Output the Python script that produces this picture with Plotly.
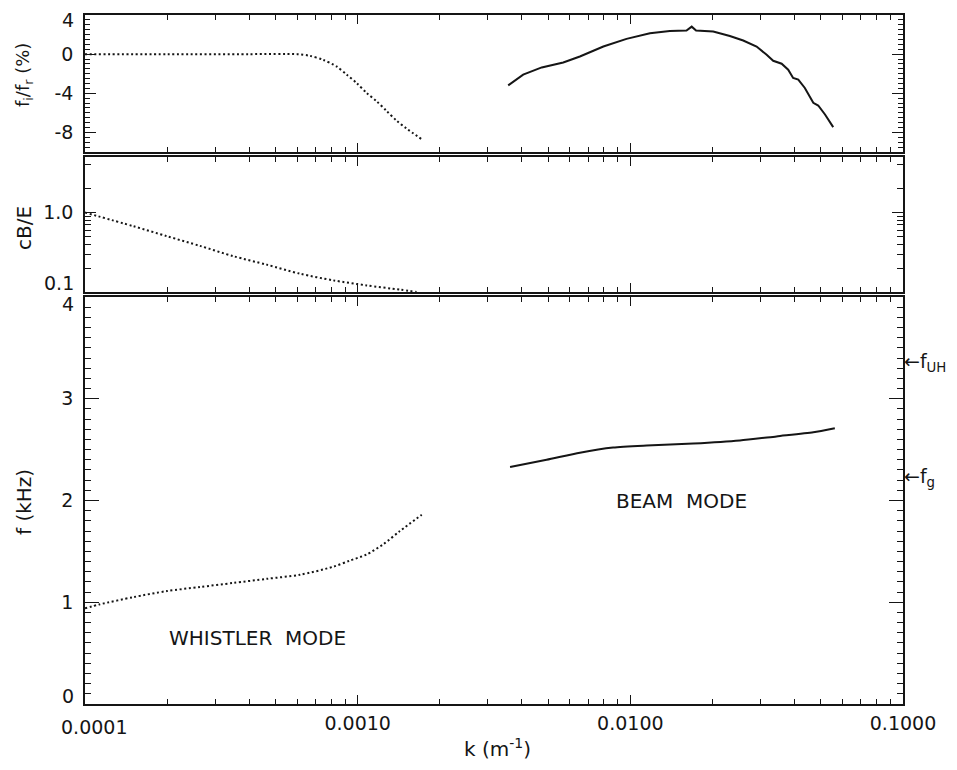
import plotly.graph_objects as go
import math

# ---------------- data ----------------
# top panel: growth rate f_i/f_r (%)
whistler_fi_k = [0.0001, 0.0002, 0.0004, 0.0006, 0.000667, 0.000746, 0.000836, 0.000912,
                 0.000991, 0.001079, 0.001172, 0.001276, 0.001390, 0.001510, 0.001718]
whistler_fi = [0.0, 0.0, 0.0, 0.0, -0.17, -0.58, -1.25, -2.1, -2.95, -3.97, -4.8, -5.8,
               -6.8, -7.6, -8.7]

beam_fi_k = [0.003565, 0.004046, 0.004732, 0.005675, 0.006531, 0.007962, 0.009683, 0.01180,
             0.01396, 0.01607, 0.01679, 0.01742, 0.02014, 0.02317, 0.02594, 0.02904, 0.03162,
             0.03342, 0.03589, 0.03793, 0.03954, 0.04130, 0.04365, 0.04688, 0.04887, 0.05176,
             0.05546]
beam_fi = [-3.19, -2.1, -1.36, -0.85, -0.24, 0.78, 1.56, 2.14, 2.37, 2.41, 2.81, 2.41, 2.31,
           1.86, 1.39, 0.78, -0.07, -0.68, -0.98, -1.59, -2.44, -2.61, -3.46, -4.98, -5.25,
           -6.17, -7.46]

# middle panel: cB/E
whistler_cbe_k = [0.0001, 0.0001503, 0.0001995, 0.0002642, 0.0003499, 0.0004634, 0.0006138,
                  0.0008147, 0.001079, 0.001429, 0.001644]
whistler_cbe = [1.0, 0.673, 0.504, 0.380, 0.282, 0.221, 0.170, 0.140, 0.121, 0.107, 0.100]

# bottom panel: frequency (kHz)
whistler_f_k = [0.0001, 0.0001135, 0.0001503, 0.0001995, 0.0002642, 0.0003499, 0.0004634,
                0.0006138, 0.0008147, 0.0009376, 0.001079, 0.001242, 0.001429, 0.001718]
whistler_f = [0.94, 0.98, 1.05, 1.11, 1.15, 1.19, 1.23, 1.27, 1.35, 1.41, 1.47, 1.57, 1.70, 1.86]

beam_f_k = [0.003622, 0.004932, 0.006531, 0.008650, 0.01148, 0.01702, 0.02523, 0.03436,
            0.04688, 0.05623]
beam_f = [2.33, 2.40, 2.47, 2.52, 2.54, 2.56, 2.59, 2.63, 2.67, 2.71]

# reference frequencies (kHz)
f_uh = 3.36
f_g = 2.23

# axis ticks
x_tickvals = [0.0001, 0.001, 0.01, 0.1]
x_ticktext = ["0.0001", "0.0010", "0.0100", "0.1000"]
x_minor = [m * 10 ** e for e in (-4, -3, -2) for m in range(2, 10)]

top_tickvals = [4, 0, -4, -8]
top_ticktext = ["4", "0", "-4", "-8"]
mid_tickvals = [0.1, 1.0]
mid_ticktext = ["0.1", "1.0"]
mid_minor = [0.2, 0.3, 0.4, 0.5, 0.6, 0.7, 0.8, 0.9, 2, 4]
bot_tickvals = [0, 1, 2, 3, 4]
bot_ticktext = ["0", "1", "2", "3", "4"]

# ---------------- figure ----------------
FONT = "DejaVu Sans, Verdana, sans-serif"
INK = "#151515"
DOT = dict(color=INK, width=2, dash="2px,2.6px", shape="spline", smoothing=0.8)
SOLID = dict(color=INK, width=2)

fig = go.Figure()
fig.add_trace(go.Scatter(x=whistler_fi_k, y=whistler_fi, mode="lines", line=DOT,
                         xaxis="x", yaxis="y"))
fig.add_trace(go.Scatter(x=beam_fi_k, y=beam_fi, mode="lines", line=SOLID,
                         xaxis="x", yaxis="y"))
fig.add_trace(go.Scatter(x=whistler_cbe_k, y=whistler_cbe, mode="lines", line=DOT,
                         xaxis="x2", yaxis="y2"))
fig.add_trace(go.Scatter(x=whistler_f_k, y=whistler_f, mode="lines", line=DOT,
                         xaxis="x3", yaxis="y3"))
fig.add_trace(go.Scatter(x=beam_f_k, y=beam_f, mode="lines",
                         line=dict(SOLID, shape="spline", smoothing=0.6),
                         xaxis="x3", yaxis="y3"))

tickfont = dict(family=FONT, size=19, color=INK)
axis_common = dict(showline=True, linecolor=INK, linewidth=1.5, mirror="ticks",
                   ticks="inside", tickcolor=INK, tickwidth=1.2, showgrid=False,
                   zeroline=False, tickfont=tickfont)

# edge labels are drawn as annotations (nudged inside, like the original)
EDGE_X = [0.0001]
x_lab_vals = [v for v in x_tickvals if v not in EDGE_X]
x_lab_text = [t for v, t in zip(x_tickvals, x_ticktext) if v not in EDGE_X]


def xaxis(anchor, labels):
    d = dict(axis_common, type="log", range=[-4, -1], anchor=anchor,
             showticklabels=labels, ticklen=9, ticklabelstandoff=1,
             minor=dict(tickvals=x_minor, ticks="inside", ticklen=5,
                        tickcolor=INK, tickwidth=1, showgrid=False))
    if labels:
        d.update(tickvals=x_lab_vals, ticktext=x_lab_text)
    else:
        d.update(tickvals=x_tickvals)
    return d


def inner(vals, texts, edges):
    pairs = [(v, t) for v, t in zip(vals, texts) if v not in edges]
    return [p[0] for p in pairs], [p[1] for p in pairs]


top_v, top_t = inner(top_tickvals, top_ticktext, [4])
mid_v, mid_t = inner(mid_tickvals, mid_ticktext, [0.1])
bot_v, bot_t = inner(bot_tickvals, bot_ticktext, [0, 4])

fig.update_layout(
    width=957, height=770,
    margin=dict(l=85, r=54, t=15, b=66),
    paper_bgcolor="white", plot_bgcolor="white",
    showlegend=False,
    font=dict(family=FONT, color=INK),
    xaxis=xaxis("y", False),
    xaxis2=xaxis("y2", False),
    xaxis3=xaxis("y3", True),
    yaxis=dict(axis_common, domain=[0.8012, 1.0], anchor="x", range=[-10, 4],
               tickvals=top_v, ticktext=top_t,
               ticklen=11, ticklabelstandoff=6,
               minor=dict(dtick=0.5, ticks="inside", ticklen=5, tickcolor=INK,
                          tickwidth=1, showgrid=False)),
    yaxis2=dict(axis_common, domain=[0.5980, 0.7939], anchor="x2", type="log",
                range=[-1, math.log10(5)],
                tickvals=mid_v, ticktext=mid_t,
                ticklen=11, ticklabelstandoff=6,
                minor=dict(tickvals=mid_minor, ticks="inside", ticklen=6, tickcolor=INK,
                           tickwidth=1, showgrid=False)),
    yaxis3=dict(axis_common, domain=[0.0, 0.5907], anchor="x3", range=[0, 4],
                tickvals=bot_v, ticktext=bot_t,
                ticklen=14, ticklabelstandoff=6,
                minor=dict(dtick=0.1, ticks="inside", ticklen=6, tickcolor=INK,
                           tickwidth=1, showgrid=False)),
)

ann = []
for yref, val, txt, shift in [("y", top_tickvals[0], top_ticktext[0], -5),
                              ("y2", math.log10(mid_tickvals[0]), mid_ticktext[0], 9),
                              ("y3", bot_tickvals[-1], bot_ticktext[-1], -7),
                              ("y3", bot_tickvals[0], bot_ticktext[0], 8)]:
    ann.append(dict(xref="paper", x=0, yref=yref, y=val, text=txt, showarrow=False,
                    xanchor="right", yanchor="middle", xshift=-9, yshift=shift,
                    font=tickfont))
ann.append(dict(xref="x3", x=math.log10(x_tickvals[0]), yref="paper", y=0,
                text=x_ticktext[0], showarrow=False, xanchor="center", yanchor="top",
                xshift=9, yshift=-10, font=tickfont))

# axis titles
title_font = dict(family=FONT, size=20, color=INK)
ann.append(dict(xref="paper", x=-0.0746, yref="paper", y=0.9129,
                text="f<sub>i</sub>/f<sub>r</sub> (%)", textangle=-90, showarrow=False,
                font=dict(family=FONT, size=18, color=INK),
                xanchor="center", yanchor="middle"))
ann.append(dict(xref="paper", x=-0.0746, yref="paper", y=0.6909, text="cB/E",
                textangle=-90, showarrow=False, font=title_font,
                xanchor="center", yanchor="middle"))
ann.append(dict(xref="paper", x=-0.0746, yref="paper", y=0.2932, text="f (kHz)",
                textangle=-90, showarrow=False, font=title_font,
                xanchor="center", yanchor="middle"))
ann.append(dict(xref="paper", x=0.5037, yref="paper", y=-0.0639,
                text="k (m<sup>-1</sup>)", showarrow=False, font=title_font,
                xanchor="center", yanchor="middle"))

# mode labels
mode_font = dict(family=FONT, size=20, color=INK)
ann.append(dict(xref="x3", x=-3.366, yref="y3", y=0.65, text="WHISTLER  MODE",
                showarrow=False, font=mode_font, xanchor="center", yanchor="middle"))
ann.append(dict(xref="x3", x=-1.814, yref="y3", y=2.0, text="BEAM  MODE",
                showarrow=False, font=mode_font, xanchor="center", yanchor="middle"))

# reference frequency markers on the right
for val, txt in [(f_uh, "←f<sub>UH</sub>"), (f_g, "←f<sub>g</sub>")]:
    ann.append(dict(xref="paper", x=1.0, yref="y3", y=val, text=txt, showarrow=False,
                    xanchor="left", yanchor="middle", xshift=-1,
                    font=dict(family=FONT, size=19, color=INK)))

fig.update_layout(annotations=ann)
fig.write_html("out.html", config={"displayModeBar": False},
               post_script="document.body.style.margin='0';")
